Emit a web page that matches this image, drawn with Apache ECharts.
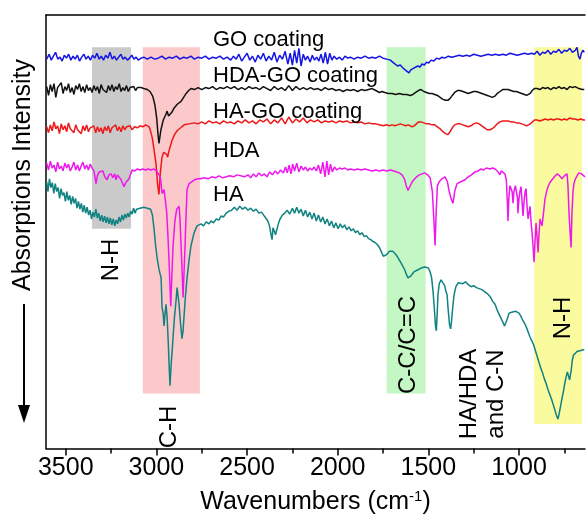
<!DOCTYPE html>
<html>
<head>
<meta charset="utf-8">
<script src="https://cdn.jsdelivr.net/npm/echarts@6/dist/echarts.min.js"></script>
<style>
html,body{margin:0;padding:0;background:#fff;}
#main{width:586px;height:520px;}
</style>
</head>
<body>
<div id="main"></div>
<script>
// spectra: [wavenumber (cm-1), offset intensity]
var goData = [[3605,397],[3592,402],[3580,396],[3568,400],[3556,404],[3544,397],[3532,399],[3520,395],[3508,401],[3496,398],[3484,402],[3472,396],[3460,400],[3448,397],[3436,401],[3424,395],[3412,399],[3400,402],[3388,397],[3376,400],[3364,396],[3352,401],[3340,398],[3328,403],[3316,397],[3304,400],[3292,396],[3280,401],[3268,398],[3256,404],[3244,397],[3232,400],[3220,396],[3208,399],[3196,402],[3184,397],[3172,399],[3160,396],[3148,398],[3136,401],[3124,397],[3112,399],[3100,396],[3085,398],
  [3070,399],[3050,397],[3030,399],[3010,397],[2990,398],[2970,400],[2950,397],[2930,399],[2910,398],[2890,400],[2870,397],[2850,399],[2830,398],[2810,400],[2790,397],[2770,399],[2750,398],[2730,400],[2710,397],[2690,399],[2670,398],[2650,400],[2630,397],[2610,399],
  [2590,396],[2575,400],[2560,397],[2545,402],[2530,395],[2515,399],[2500,403],[2485,396],[2470,400],[2455,394],[2440,401],[2425,397],[2410,403],[2395,395],[2380,400],[2365,396],[2350,404],[2335,394],[2320,401],[2305,397],[2290,405],[2275,392],[2262,403],[2250,391],[2238,406],[2226,393],[2214,408],[2202,390],[2190,402],[2178,396],[2166,400],[2152,394],[2140,401],[2128,396],[2116,399],[2104,395],[2092,402],[2080,393],[2068,404],[2056,392],[2044,403],[2032,396],[2020,400],[2005,397],[1990,399],[1975,396],[1960,400],[1945,398],[1930,399],[1910,397],[1890,399],[1870,398],[1850,400],[1830,398],[1810,399],[1790,398],[1770,400],[1750,398],[1730,397],
  [1710,396],[1690,393],[1670,390],[1655,391],[1640,388],[1628,386],[1618,387],[1607,383],[1597,386],[1588,385],[1578,388],[1568,387],[1558,390],[1546,389],[1535,392],[1522,391],[1510,394],[1498,393],[1485,396],[1470,395],[1455,398],[1440,397],[1425,399],[1410,398],
  [1390,400],[1370,399],[1350,400],[1330,401],[1310,400],[1290,401],[1270,400],[1250,402],[1230,401],[1210,400],[1190,401],[1170,402],[1150,401],[1130,402],[1110,401],[1090,402],[1070,401],[1050,403],[1030,402],[1010,401],[990,402],[970,403],[950,402],[930,403],
  [915,402],[900,405],[885,401],[870,404],[855,403],[840,406],[825,402],[810,405],[795,404],[780,407],[765,403],[750,406],[735,405],[720,408],[705,404],[690,406],[680,409],[672,400],[664,397],[656,403],[648,406],[640,404]];

var hdaGoData = [[3605,369],[3595,360],[3585,371],[3575,364],[3565,372],[3555,358],[3545,368],[3535,366],[3525,373],[3515,362],[3505,369],[3495,365],[3485,372],[3475,363],[3465,368],[3455,361],[3445,370],[3435,366],[3425,372],[3415,364],[3405,369],[3395,363],[3385,371],[3375,365],[3365,368],[3355,363],[3345,370],[3335,365],[3325,369],[3315,362],[3305,371],[3295,366],[3285,368],[3275,363],[3265,370],[3255,365],[3245,371],[3235,364],[3225,369],[3215,366],[3205,372],[3195,364],[3185,368],[3175,365],[3165,370],[3155,364],[3145,368],[3135,366],[3125,369],[3115,365],[3105,368],[3095,366],[3085,368],[3070,367],[3050,366],[3035,364],[3020,359],[3008,350],[2998,336],[2992,322],
  [2986,311],[2975,325],[2962,335],[2956,337],[2947,341],[2941,344],[2933,339],[2925,337],[2914,343],[2903,347],[2885,351],[2864,354],[2850,358],[2836,362],[2822,365],[2809,367],
  [2790,366],[2770,368],[2750,366],[2730,368],[2710,367],[2690,369],[2670,366],[2650,368],[2630,367],[2610,369],[2590,367],[2570,369],[2550,366],[2530,368],[2510,366],[2490,369],[2470,367],[2450,368],[2430,366],[2410,369],[2390,367],[2370,365],[2350,369],[2330,366],[2310,368],[2290,365],[2270,370],[2250,365],[2230,369],[2210,366],[2190,368],[2170,366],[2150,368],[2130,366],[2110,367],[2090,365],[2070,368],[2050,366],[2030,367],[2010,365],[1990,366],[1970,364],[1950,366],[1930,365],[1910,366],[1890,364],[1870,366],[1850,365],[1830,366],[1810,367],[1790,365],[1770,363],[1755,364],
  [1740,363],[1720,362],[1700,362],[1680,361],[1660,362],[1640,361],[1620,361],[1600,360],[1585,361],[1570,363],[1555,365],[1540,366],[1525,364],[1510,363],[1495,362],[1480,362],[1465,361],[1450,360],[1435,358],[1420,356],[1405,355],[1392,355],[1380,357],[1368,360],[1355,363],[1340,365],[1325,365],[1310,364],[1295,363],[1280,362],[1265,363],[1250,364],[1235,364],[1220,363],[1205,362],[1190,361],[1175,360],[1160,359],[1148,358],[1135,359],[1120,362],[1105,364],[1090,366],[1075,366],[1060,366],[1045,365],[1030,364],[1015,364],[1000,363],[985,362],[970,361],[958,360],[948,360],[938,362],[928,365],[915,367],
  [900,367],[885,366],[870,368],[855,367],[840,368],[825,366],[810,368],[795,367],[780,369],[765,367],[750,368],[735,366],[720,369],[705,368],[690,369],[680,370],[670,367],[660,368],[650,366],[640,366]];

var haGoData = [[3605,328],[3595,322],[3585,330],[3575,324],[3565,333],[3555,326],[3545,329],[3535,321],[3525,331],[3515,325],[3505,329],[3495,323],[3485,332],[3475,326],[3465,328],[3455,322],[3445,330],[3435,325],[3425,327],[3415,321],[3405,329],[3395,324],[3385,330],[3375,323],[3365,327],[3355,325],[3345,329],[3335,322],[3325,328],[3315,323],[3305,327],[3295,321],[3285,328],[3275,324],[3265,329],[3255,322],[3245,327],[3235,325],[3225,330],[3215,324],[3205,328],[3195,323],[3185,329],[3175,325],[3165,328],[3155,326],[3145,329],[3135,325],[3120,328],[3105,327],[3090,329],[3075,328],[3060,330],[3050,331],[3040,328],
  [3030,322],[3022,316],[3012,303],[3002,290],[2994,270],[2986,259],[2978,282],[2969,297],[2960,302],[2949,304],[2943,300],[2938,297],[2930,304],[2922,309],[2914,314],[2900,320],[2886,324],[2866,327],[2847,330],[2820,331],[2792,332],
  [2770,331],[2750,333],[2730,331],[2710,334],[2690,332],[2670,333],[2650,331],[2630,334],[2610,332],[2590,333],[2570,331],[2550,334],[2530,332],[2510,335],[2490,332],[2470,334],[2450,331],[2430,335],[2410,333],[2390,336],[2370,331],[2350,335],[2330,332],[2310,337],[2290,331],[2270,338],[2250,332],[2230,336],[2210,333],[2190,337],[2170,332],[2150,335],[2130,333],[2110,335],[2090,332],[2070,334],[2050,333],[2030,334],[2010,332],[1990,334],[1970,333],[1950,334],[1930,332],[1910,333],[1890,332],[1870,333],[1850,331],[1830,332],[1810,331],[1790,331],[1770,330],[1750,329],
  [1730,330],[1715,329],[1700,330],[1685,329],[1670,330],[1655,331],[1640,330],[1625,329],[1610,330],[1600,329],[1590,328],[1578,329],[1566,331],[1554,333],[1540,333],[1525,332],[1510,331],[1495,331],[1480,330],[1465,330],[1450,328],[1435,326],[1420,323],[1405,321],[1392,320],[1380,323],[1368,327],[1355,330],[1340,331],[1325,331],[1310,330],[1295,329],[1280,328],[1265,329],[1250,331],[1235,332],[1220,331],[1205,329],[1190,327],[1175,325],[1160,325],[1148,326],[1135,328],[1120,331],[1105,333],[1090,334],[1075,334],[1060,334],[1045,333],[1030,333],[1015,332],[1000,332],[985,331],[970,330],[958,329],[948,329],[938,331],[928,333],[915,335],
  [900,335],[885,334],[870,335],[855,336],[840,335],[825,336],[810,335],[795,336],[780,336],[765,335],[750,336],[735,335],[720,337],[705,336],[690,336],[675,335],[660,336],[645,335],[636,335]];

var hdaData = [[3605,291],[3595,284],[3585,293],[3575,286],[3565,289],[3555,282],[3545,292],[3535,285],[3525,288],[3515,283],[3505,291],[3495,286],[3485,290],[3475,283],[3465,287],[3455,292],[3445,284],[3435,289],[3425,283],[3415,288],[3405,292],[3395,285],[3385,289],[3375,284],[3365,290],[3355,286],
  [3345,283],[3338,276],[3333,270],[3326,278],[3316,282],[3305,280],[3295,283],[3285,277],[3272,274],[3262,279],[3250,280],[3240,276],[3230,280],[3223,274],[3215,279],[3206,277],[3195,274],[3186,270],[3179,267],[3170,271],[3160,273],[3151,275],[3142,280],[3134,284],[3120,283],[3105,285],[3090,284],[3075,285],[3060,284],[3045,285],[3030,284],[3015,285],[3000,283],[2990,282],
  [2982,278],[2976,274],[2969,260],[2962,262],[2958,264],[2950,252],[2943,240],[2936,215],[2930,190],[2925,165],[2921,145],[2915,175],[2908,207],[2898,232],[2888,244],[2875,247],[2870,235],[2864,207],[2858,180],[2853,154],[2848,178],[2842,207],[2836,240],[2831,264],[2820,270],[2811,272],[2790,274],[2770,275],[2755,275],
  [2735,276],[2715,275],[2695,277],[2675,276],[2655,278],[2635,276],[2615,277],[2595,278],[2575,277],[2555,279],[2535,278],[2515,277],[2495,279],[2480,276],[2465,280],[2450,277],[2435,281],[2420,278],[2405,280],[2390,277],[2375,282],[2360,279],[2345,283],[2330,280],[2315,284],[2300,281],[2288,287],[2278,281],[2268,289],[2258,280],[2248,290],[2238,283],[2226,291],[2214,282],[2202,288],[2190,284],[2178,287],[2166,283],[2154,286],[2142,284],[2130,287],[2118,283],[2106,289],[2094,280],[2082,292],[2070,277],[2060,293],[2050,279],[2040,290],[2030,282],[2018,287],[2005,284],[1990,286],[1975,285],[1960,286],[1945,284],[1930,285],[1910,284],[1890,285],[1870,284],[1850,285],[1830,284],[1810,283],[1790,284],[1770,283],[1750,284],[1730,283],[1710,284],[1690,283],[1675,282],
  [1660,281],[1645,279],[1632,275],[1622,268],[1612,263],[1603,265],[1592,271],[1580,274],[1565,277],[1550,279],[1535,280],[1520,281],[1505,279],[1490,276],[1478,262],[1470,235],[1463,207],[1457,240],[1450,268],[1440,272],[1425,275],[1408,277],[1395,272],[1385,262],[1375,255],[1364,250],[1355,262],[1342,270],[1320,272],[1298,274],[1280,277],[1262,279],[1243,282],[1225,283],[1210,285],[1195,284],[1180,286],[1171,286],[1160,285],[1145,286],[1132,285],[1120,283],[1110,281],[1105,279],[1098,283],[1088,285],[1078,280],[1070,274],[1064,250],[1061,232],[1056,255],[1050,268],[1044,270],[1038,262],[1033,250],[1028,262],[1020,268],[1011,269],[1008,255],[1006,240],[1000,255],[995,262],[989,267],[984,254],[978,237],[972,252],[966,262],[961,265],[956,248],[950,234],[945,240],[939,247],[934,232],[928,220],[922,205],[917,190],[912,210],[906,230],[900,215],[895,200],[890,218],[884,234],[878,230],[873,227],[865,240],[857,254],[848,262],[840,267],[830,271],[818,274],[805,277],[790,280],[776,278],[763,275],[750,278],[740,280],[735,280],[730,268],[724,240],[718,220],[713,205],[708,240],[702,262],[697,270],[691,274],[680,278],[670,281],[664,282],[655,280],[645,278],[636,277]];

var haData = [[3605,272],[3598,262],[3590,275],[3582,266],[3574,271],[3566,260],[3558,270],[3550,262],[3542,266],[3534,255],[3526,265],[3518,258],[3510,261],[3502,252],[3494,262],[3486,253],[3478,258],[3470,249],[3462,257],[3454,250],[3446,255],[3438,245],[3430,252],[3422,244],[3414,250],[3406,241],[3398,248],[3390,240],[3382,246],[3374,238],[3366,243],[3358,234],[3350,241],[3342,236],[3334,244],[3326,235],[3318,240],[3310,232],[3302,238],[3294,231],[3286,237],[3278,230],[3270,236],[3262,229],[3254,235],[3246,228],[3238,234],[3230,227],[3222,233],[3214,229],[3206,236],[3198,231],[3190,238],[3182,233],[3174,239],[3166,235],[3158,240],[3150,236],[3142,242],[3134,239],[3126,245],[3118,240],[3110,244],[3100,242],[3090,245],[3080,243],[3070,246],[3060,244],[3050,245],[3040,243],[3032,244],
  [3022,238],[3013,224],[3005,208],[2996,194],[2985,182],[2974,174],[2969,144],[2963,138],[2958,125],[2952,138],[2947,147],[2941,134],[2935,110],[2930,85],[2925,64],[2919,85],[2913,100],[2908,114],[2900,135],[2892,150],[2886,164],[2880,155],[2875,147],[2868,130],[2859,112],[2853,120],[2848,134],[2840,155],[2831,174],[2820,192],[2809,207],[2792,220],[2776,227],[2765,226],[2754,229],[2740,227],[2725,231],[2710,229],[2699,232],[2685,230],[2670,234],[2655,233],[2644,237],[2630,236],[2615,240],[2600,242],
  [2585,243],[2570,246],[2555,243],[2540,247],[2525,244],[2510,246],[2495,243],[2480,245],[2465,242],[2450,244],[2435,240],[2420,241],[2405,237],[2395,236],[2385,232],[2375,226],[2368,218],[2362,213],[2357,225],[2350,222],[2343,218],[2335,220],[2326,230],[2318,234],[2305,238],[2292,240],[2279,243],[2265,239],[2250,245],[2238,240],[2226,246],[2214,240],[2202,244],[2190,237],[2178,243],[2166,236],[2154,241],[2142,234],[2130,240],[2118,232],[2106,238],[2094,231],[2082,236],[2070,229],[2058,234],[2046,227],[2034,232],[2022,225],[2010,230],[1998,224],[1986,229],[1974,225],[1962,228],[1950,223],[1938,226],[1926,222],[1914,224],[1902,220],[1890,222],[1878,218],[1866,220],[1854,216],[1842,217],[1830,214],[1818,213],[1806,211],[1794,210],[1782,208],[1770,205],[1758,200],[1748,196],[1739,194],[1728,198],[1716,201],[1705,203],[1695,201],[1684,200],[1672,196],[1660,192],[1650,189],[1640,187],[1630,182],[1620,177],[1612,174],
  [1605,174],[1596,176],[1588,178],[1580,180],[1570,181],[1560,182],[1550,182],[1540,184],[1530,183],[1520,185],[1510,186],[1500,184],[1490,180],[1482,174],[1474,160],[1466,140],[1460,124],[1456,120],[1452,135],[1447,157],[1440,168],[1430,172],[1419,172],[1410,166],[1403,160],[1397,157],[1390,140],[1383,126],[1377,122],[1372,130],[1365,145],[1358,157],[1348,165],[1335,169],[1325,170],[1310,168],[1295,170],[1280,167],[1265,165],[1250,166],[1235,164],[1220,163],[1205,162],[1190,160],[1175,158],[1160,155],[1145,150],[1132,147],[1118,140],[1105,135],[1092,130],[1080,125],[1072,126],[1063,133],[1055,138],[1048,140],[1040,139],[1030,141],[1020,140],[1010,141],[1000,138],[990,135],[980,131],[970,128],[960,124],[950,119],[940,114],[930,110],[920,106],[910,100],[900,94],[890,88],[880,82],[870,77],[860,71],[850,66],[840,60],[830,55],[820,50],[810,44],[800,38],[792,33],[785,30],[778,36],[770,44],[762,52],[755,58],[748,66],[740,73],[733,78],[727,79],[721,70],[717,68],[712,80],[706,90],[700,95],[690,97],[680,99],[670,100],[660,100],[650,102],[640,101]];

var seriesNames = ['GO coating', 'HDA-GO coating', 'HA-GO coating', 'HDA', 'HA'];
var majorTicks = [3500, 3000, 2500, 2000, 1500, 1000];
var minorTicks = [3250, 2750, 2250, 1750, 1250, 750];

// shaded bands: [from, to, top, bottom, label]
var bandFrom = [3355, 3075, 1730, 917];
var bandTo = [3140, 2760, 1515, 653];
var bandTop = [409, 409, 409, 409];
var bandBottom = [224, 56, 56, 25];
var bandLabels = ['N-H', 'C-H', 'C-C/C=C', 'N-H'];

var FONT = '"Liberation Sans", Arial, sans-serif';
var xMin = 636, xMax = 3609;

var myChart = echarts.init(document.getElementById('main'));

var bandColors = ['rgba(150,150,150,0.5)', 'rgba(240,60,60,0.28)', 'rgba(60,230,60,0.3)', 'rgba(245,245,40,0.45)'];
var areas = [];
for (var i = 0; i < bandFrom.length; i++) {
	areas.push([
		{coord: [bandFrom[i], bandTop[i]], itemStyle: {color: bandColors[i]}},
		{coord: [bandTo[i], bandBottom[i]]}
	]);
}

function curve(name, data, color) {
	return {
		name: name,
		type: 'line',
		data: data,
		symbol: 'none',
		lineStyle: {color: color, width: 1.5},
		z: 2
	};
}

function rotText(x, y, text) {
	return {
		type: 'text', x: x, y: y, z: 100, rotation: Math.PI / 2,
		style: {text: text, fontSize: 24, fontFamily: FONT, fill: '#000', align: 'center', verticalAlign: 'middle', lineHeight: 27}
	};
}
function nameText(y, text) {
	return {
		type: 'text', x: 213, y: y, z: 100,
		style: {text: text, fontSize: 22, fontFamily: FONT, fill: '#000', align: 'left', verticalAlign: 'middle'}
	};
}

var option = {
	animation: false,
	backgroundColor: '#fff',
	grid: {left: 46, top: 15, right: 1, bottom: 63},
	xAxis: [
		{
			type: 'value', min: xMin, max: xMax, inverse: true, position: 'bottom',
			axisLine: {lineStyle: {color: '#000', width: 1.5}},
			axisTick: {customValues: majorTicks, length: 7, lineStyle: {color: '#000', width: 1.5}},
			axisLabel: {customValues: majorTicks, fontSize: 25, color: '#000', fontFamily: FONT, margin: 7,
				formatter: function (v) { return String(v); }},
			splitLine: {show: false},
			name: 'Wavenumbers (cm{sup|-1})',
			nameLocation: 'middle',
			nameGap: 41,
			nameTextStyle: {
				fontSize: 25, color: '#000', fontFamily: FONT,
				rich: {sup: {fontSize: 15, fontFamily: FONT, color: '#000', padding: [0, 0, 11, 0]}}
			}
		},
		{
			type: 'value', min: xMin, max: xMax, inverse: true, position: 'bottom',
			axisLine: {show: false},
			axisTick: {customValues: minorTicks, length: 5, lineStyle: {color: '#000', width: 1.5}},
			axisLabel: {show: false},
			splitLine: {show: false}
		},
		{
			type: 'value', min: xMin, max: xMax, inverse: true, position: 'top',
			axisLine: {lineStyle: {color: '#000', width: 1.5}},
			axisTick: {show: false},
			axisLabel: {show: false},
			splitLine: {show: false}
		}
	],
	yAxis: {
		type: 'value', min: 0, max: 442,
		axisLine: {show: true, lineStyle: {color: '#000', width: 1.5}},
		axisTick: {show: false},
		axisLabel: {show: false},
		splitLine: {show: false}
	},
	series: [
		curve(seriesNames[0], goData, '#1414e6'),
		curve(seriesNames[1], hdaGoData, '#111111'),
		curve(seriesNames[2], haGoData, '#ee1818'),
		curve(seriesNames[4], haData, '#108282'),
		curve(seriesNames[3], hdaData, '#ee18ee'),
		{
			type: 'line', data: [], z: 10, silent: true,
			markArea: {silent: true, label: {show: false}, data: areas}
		}
	],
	graphic: [
		nameText(40, seriesNames[0]),
		nameText(76, seriesNames[1]),
		nameText(112, seriesNames[2]),
		nameText(151, seriesNames[3]),
		nameText(195, seriesNames[4]),
		rotText(111, 260, bandLabels[0]),
		rotText(169, 427, bandLabels[1]),
		rotText(408, 345, bandLabels[2]),
		rotText(563, 318, bandLabels[3]),
		rotText(483, 394, 'HA/HDA\nand C-N'),
		{
			type: 'text', x: 23, y: 175, z: 100, rotation: Math.PI / 2,
			style: {text: 'Absorptions Intensity', fontSize: 25, fontFamily: FONT, fill: '#000', align: 'center', verticalAlign: 'middle'}
		},
		{type: 'line', z: 100, shape: {x1: 24, y1: 304, x2: 24, y2: 410}, style: {stroke: '#000', lineWidth: 2}},
		{type: 'polygon', z: 100, shape: {points: [[18, 405], [30, 405], [24, 423]]}, style: {fill: '#000'}}
	]
};
myChart.setOption(option);
</script>
</body>
</html>
